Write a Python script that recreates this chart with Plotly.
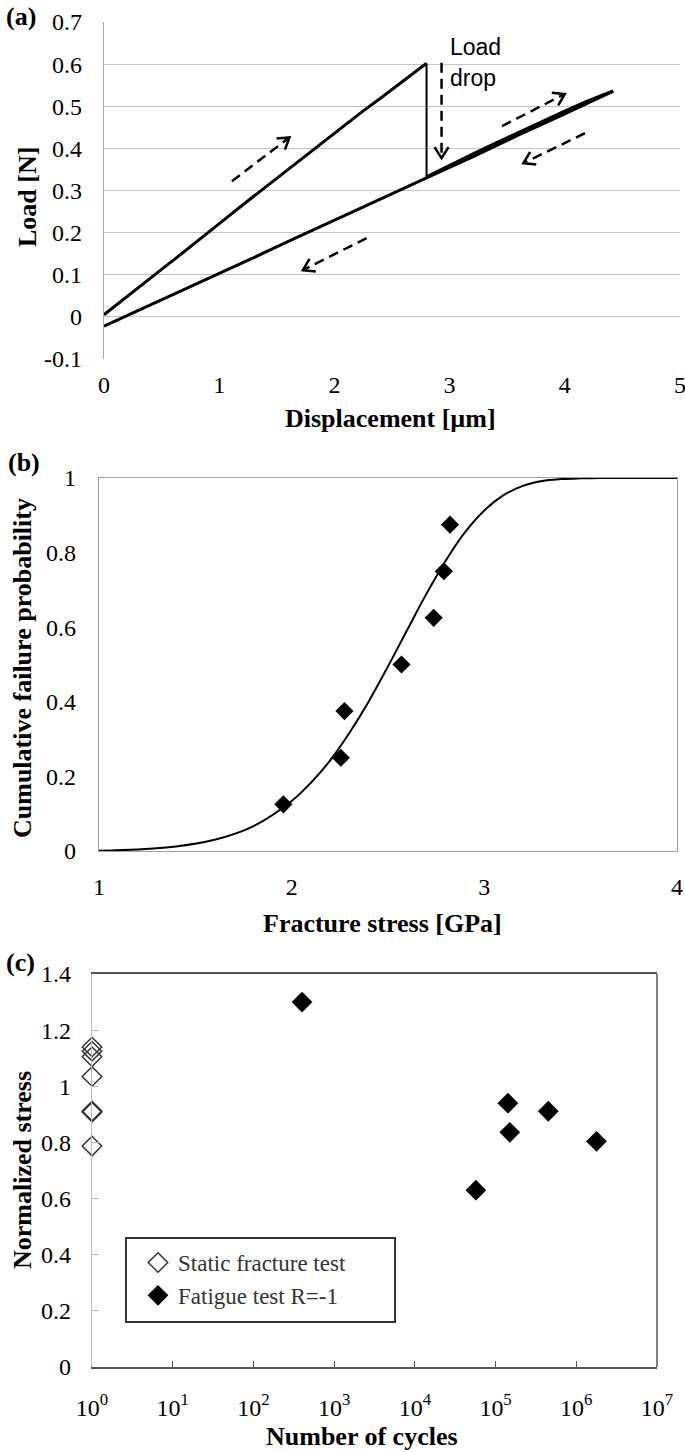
import plotly.graph_objects as go

W, H = 685, 1452
SERIF = "Liberation Serif, Times New Roman, serif"
SANS = "Liberation Sans, Arial, sans-serif"

# ---------------- Panel (a): load-displacement ----------------
load_x = [0.00, 0.15, 0.30, 0.45, 0.60, 0.75, 0.90, 1.05, 1.20, 1.35, 1.50, 1.65, 1.80, 1.95, 2.10, 2.25, 2.40, 2.55, 2.70, 2.80]
load_y = [0.005, 0.038, 0.070, 0.102, 0.134, 0.166, 0.199, 0.232, 0.265, 0.297, 0.330, 0.362, 0.394, 0.426, 0.457, 0.489, 0.519, 0.550, 0.580, 0.602]
drop_x = [2.80, 2.80]
drop_y = [0.602, 0.332]
reload_x = [2.80, 3.00, 3.20, 3.40, 3.60, 3.80, 4.00, 4.20, 4.42]
reload_y = [0.332, 0.360, 0.386, 0.412, 0.438, 0.463, 0.488, 0.512, 0.536]
unload_x = [4.42, 4.20, 4.00, 3.60, 3.20, 2.80, 2.40, 2.00, 1.60, 1.20, 0.80, 0.40, 0.00]
unload_y = [0.536, 0.507, 0.482, 0.432, 0.380, 0.330, 0.280, 0.229, 0.179, 0.128, 0.078, 0.028, -0.022]
a_yticks = [-0.1, 0, 0.1, 0.2, 0.3, 0.4, 0.5, 0.6, 0.7]
a_yticktext = ["-0.1", "0", "0.1", "0.2", "0.3", "0.4", "0.5", "0.6", "0.7"]
a_xticks = [0, 1, 2, 3, 4, 5]

# ---------------- Panel (b): Weibull plot ----------------
frac_stress = [1.957, 2.255, 2.274, 2.57, 2.737, 2.79, 2.822]
cum_prob = [0.125, 0.25, 0.375, 0.5, 0.625, 0.75, 0.875]
fit_x = [1.0, 1.2, 1.4, 1.6, 1.8, 2.0, 2.1, 2.2, 2.3, 2.4, 2.5, 2.6, 2.7, 2.8, 2.9, 3.0, 3.1, 3.2, 3.3, 3.4, 3.5, 3.6, 3.8, 4.0]
fit_y = [0.001, 0.004, 0.012, 0.030, 0.066, 0.134, 0.183, 0.243, 0.317, 0.401, 0.495, 0.593, 0.690, 0.779, 0.855, 0.913, 0.954, 0.979, 0.992, 0.997, 0.999, 1.0, 1.0, 1.0]

# ---------------- Panel (c): S-N data ----------------
static_n = [1, 1, 1, 1, 1, 1, 1]
static_s = [1.14, 1.125, 1.105, 1.035, 0.912, 0.908, 0.787]
fatigue_n = [400, 5.7e4, 1.42e5, 1.5e5, 4.5e5, 1.78e6]
fatigue_s = [1.30, 0.63, 0.94, 0.836, 0.911, 0.804]
c_xticks = [1, 10, 100, 1e3, 1e4, 1e5, 1e6, 1e7]
c_xticktext = ["10<sup>%d</sup>" % i for i in range(8)]


def px2x(px):
    return px / W


def px2y(py):
    return 1 - py / H


# pixel boxes of the three plot areas (left, right, top, bottom)
A = (104, 680, 22, 359)
B = (99, 677, 478, 851)
C = (92, 657, 974, 1367)

fig = go.Figure()

line_a = dict(color="black", width=3)
fig.add_trace(go.Scatter(x=load_x, y=load_y, mode="lines", line=line_a, xaxis="x", yaxis="y", showlegend=False))
fig.add_trace(go.Scatter(x=drop_x, y=drop_y, mode="lines", line=dict(color="black", width=2), xaxis="x", yaxis="y", showlegend=False))
fig.add_trace(go.Scatter(x=reload_x, y=reload_y, mode="lines", line=dict(color="black", width=3.5), xaxis="x", yaxis="y", showlegend=False))
fig.add_trace(go.Scatter(x=unload_x, y=unload_y, mode="lines", line=line_a, xaxis="x", yaxis="y", showlegend=False))

# dashed arrows for panel (a) (decoration): start -> tip in data units
arrows = [
    ((1.11, 0.322), (1.61, 0.426)),
    ((2.93, 0.603), (2.93, 0.377)),
    ((3.455, 0.453), (4.00, 0.529)),
    ((4.175, 0.436), (3.64, 0.365)),
    ((2.28, 0.187), (1.726, 0.111)),
]
sx = (A[1] - A[0]) / 5.0
sy = (A[3] - A[2]) / 0.8
for (x0, y0), (x1, y1) in arrows:
    dxp = (x1 - x0) * sx
    dyp = (y1 - y0) * sy
    n = (dxp ** 2 + dyp ** 2) ** 0.5
    ux, uy = dxp / n, dyp / n
    L, w = 11, 7
    bx, by = x1 * sx - L * ux, y1 * sy - L * uy
    lx, ly = bx - w * uy, by + w * ux
    rx, ry = bx + w * uy, by - w * ux
    fig.add_trace(go.Scatter(x=[x0, x1 - 1.5 * ux / sx], y=[y0, y1 - 1.5 * uy / sy], mode="lines",
                             line=dict(color="black", width=2.5, dash="10px,6px"),
                             xaxis="x", yaxis="y", showlegend=False))
    fig.add_trace(go.Scatter(x=[lx / sx, x1, rx / sx], y=[ly / sy, y1, ry / sy], mode="lines",
                             line=dict(color="black", width=2.5), xaxis="x", yaxis="y", showlegend=False))

# panel (b)
fig.add_trace(go.Scatter(x=fit_x, y=fit_y, mode="lines", line=dict(color="black", width=2, shape="spline"),
                         xaxis="x2", yaxis="y2", showlegend=False))
fig.add_trace(go.Scatter(x=frac_stress, y=cum_prob, mode="markers",
                         marker=dict(symbol="diamond", size=14, color="black"),
                         xaxis="x2", yaxis="y2", showlegend=False))

# panel (c)
fig.add_trace(go.Scatter(x=static_n, y=static_s, mode="markers", name="Static fracture test",
                         legendgroup="s",
                         marker=dict(symbol="diamond-open", size=15, color="#333", line=dict(width=1.5, color="#333")),
                         xaxis="x3", yaxis="y3", cliponaxis=False))
fig.add_trace(go.Scatter(x=fatigue_n, y=fatigue_s, mode="markers", name="Fatigue test R=-1",
                         legendgroup="f",
                         marker=dict(symbol="diamond", size=16, color="black"),
                         xaxis="x3", yaxis="y3", cliponaxis=False))

tickfont = dict(family=SERIF, size=24, color="black")

fig.update_layout(
    width=W, height=H,
    margin=dict(l=0, r=0, t=0, b=0, autoexpand=False),
    paper_bgcolor="white", plot_bgcolor="white",
    showlegend=True,
    legend=dict(x=px2x(138), y=px2y(1241), xanchor="left", yanchor="top",
                borderwidth=0, bgcolor="rgba(0,0,0,0)",
                font=dict(family=SERIF, size=23, color="#333"),
                tracegroupgap=0, itemwidth=30),
    xaxis=dict(domain=[px2x(A[0]), px2x(A[1])], anchor="y", range=[0, 5], tickvals=a_xticks,
               showgrid=False, zeroline=False, showline=False, ticks="", tickfont=tickfont,
               ticklabelstandoff=9, ticklabeloverflow="allow", automargin=False),
    yaxis=dict(domain=[px2y(A[3]), px2y(A[2])], anchor="x", range=[-0.1, 0.7], tickvals=a_yticks,
               ticktext=a_yticktext, showgrid=True, gridcolor="#c4c4c4", gridwidth=1.2, zeroline=False,
               showline=True, linecolor="#a8a8a8", linewidth=1.2, ticks="", tickfont=tickfont,
               ticklabelstandoff=16, automargin=False),
    xaxis2=dict(domain=[px2x(B[0]), px2x(B[1])], anchor="y2", range=[1, 4], tickvals=[1, 2, 3, 4],
                showgrid=False, zeroline=False, showline=True, mirror=True, linecolor="#a0a0a0", linewidth=1.2,
                ticks="", tickfont=tickfont, ticklabelstandoff=14, ticklabeloverflow="allow", automargin=False),
    yaxis2=dict(domain=[px2y(B[3]), px2y(B[2])], anchor="x2", range=[0, 1], tickvals=[0, 0.2, 0.4, 0.6, 0.8, 1],
                showgrid=False, zeroline=False, showline=True, mirror=True, linecolor="#a0a0a0", linewidth=1.2,
                ticks="", tickfont=tickfont, ticklabelstandoff=17, automargin=False),
    xaxis3=dict(domain=[px2x(C[0]), px2x(C[1])], anchor="y3", type="log", range=[0, 7],
                tickvals=c_xticks, ticktext=c_xticktext, showgrid=False, zeroline=False,
                showline=True, mirror=True, linecolor="#555", linewidth=1.5,
                ticks="inside", ticklen=6, tickcolor="#555", tickfont=tickfont, ticklabelstandoff=18,
                ticklabeloverflow="allow", automargin=False),
    yaxis3=dict(domain=[px2y(C[3]), px2y(C[2])], anchor="x3", range=[0, 1.4],
                tickvals=[0, 0.2, 0.4, 0.6, 0.8, 1, 1.2, 1.4], showgrid=False, zeroline=False,
                showline=True, linecolor="#bbbbbb", linewidth=1.2,
                ticks="inside", ticklen=7, tickcolor="#bbbbbb", tickfont=tickfont, ticklabelstandoff=15,
                automargin=False),
)

# right border of panel (c), darker than the left axis line
fig.add_shape(type="line", xref="x3 domain", yref="y3 domain", x0=1, x1=1, y0=0, y1=1,
              line=dict(color="#555", width=1.5))
# legend frame of panel (c)
fig.add_shape(type="rect", xref="paper", yref="paper", x0=px2x(126), x1=px2x(395),
              y0=px2y(1322), y1=px2y(1238), line=dict(color="#333", width=2))

title_font = dict(family=SERIF, size=26, color="black")
ann = []
ann.append(dict(text="<b>(a)</b>", x=px2x(4), y=px2y(16), xanchor="left", yanchor="middle", font=title_font))
ann.append(dict(text="<b>(b)</b>", x=px2x(6), y=px2y(463), xanchor="left", yanchor="middle", font=title_font))
ann.append(dict(text="<b>(c)</b>", x=px2x(4), y=px2y(962), xanchor="left", yanchor="middle", font=title_font))
ann.append(dict(text="<b>Load [N]</b>", x=px2x(27), y=px2y(197), textangle=-90, xanchor="center", yanchor="middle", font=title_font))
ann.append(dict(text="<b>Displacement [µm]</b>", x=px2x(390), y=px2y(419), xanchor="center", yanchor="middle", font=title_font))
ann.append(dict(text="<b>Cumulative failure probability</b>", x=px2x(22), y=px2y(668), textangle=-90, xanchor="center", yanchor="middle", font=title_font))
ann.append(dict(text="<b>Fracture stress [GPa]</b>", x=px2x(382), y=px2y(923), xanchor="center", yanchor="middle", font=title_font))
ann.append(dict(text="<b>Normalized stress</b>", x=px2x(22), y=px2y(1170), textangle=-90, xanchor="center", yanchor="middle", font=title_font))
ann.append(dict(text="<b>Number of cycles</b>", x=px2x(362), y=px2y(1436), xanchor="center", yanchor="middle", font=title_font))
for a in ann:
    a.update(xref="paper", yref="paper", showarrow=False)
# "Load drop" label inside panel (a)
ann.append(dict(text="Load", x=2.99, y=0.641, xref="x", yref="y", xanchor="left", yanchor="middle",
                showarrow=False, font=dict(family=SANS, size=23, color="black")))
ann.append(dict(text="drop", x=2.99, y=0.566, xref="x", yref="y", xanchor="left", yanchor="middle",
                showarrow=False, font=dict(family=SANS, size=23, color="black")))
fig.update_layout(annotations=ann)

fig.write_html("out.html", config={"displayModeBar": False},
               post_script="document.body.style.margin='0px';document.body.style.overflow='hidden';")
